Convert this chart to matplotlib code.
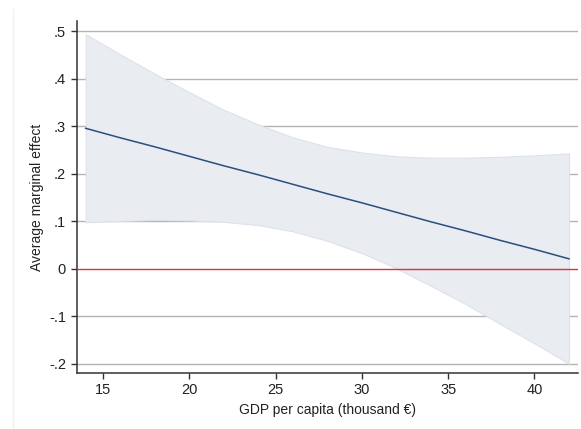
import matplotlib.pyplot as plt
from matplotlib.lines import Line2D

# values
gdp = [14, 16, 18, 20, 22, 24, 26, 28, 30, 32, 34, 36, 38, 40, 42]
ame = [0.296, 0.276, 0.257, 0.237, 0.217, 0.198, 0.178, 0.158,
       0.139, 0.119, 0.099, 0.080, 0.060, 0.041, 0.021]
ci_hi = [0.494, 0.452, 0.411, 0.372, 0.335, 0.304, 0.277, 0.257,
         0.245, 0.237, 0.234, 0.234, 0.236, 0.239, 0.243]
ci_lo = [0.098, 0.101, 0.103, 0.102, 0.099, 0.092, 0.079, 0.059,
         0.033, 0.001, -0.036, -0.074, -0.116, -0.157, -0.200]

yticks = [0.5, 0.4, 0.3, 0.2, 0.1, 0, -0.1, -0.2]
ylabels = [".5", ".4", ".3", ".2", ".1", "0", "-.1", "-.2"]
xticks = [15, 20, 25, 30, 35, 40]

plt.rcParams['font.family'] = ['Liberation Sans', 'DejaVu Sans']

fig = plt.figure(figsize=(5.81, 4.29), dpi=100)
ax = fig.add_axes([0.1317, 0.1305, 0.8631, 0.8205])

# faint graph-region border on the left
fig.add_artist(Line2D([0.022, 0.022], [0.0, 0.98], transform=fig.transFigure,
                      color="#f1f1f1", linewidth=1))

for yv in yticks:
    if yv != 0:
        ax.axhline(yv, color="#b4b4b4", linewidth=1, zorder=1)

ax.fill_between(gdp, ci_lo, ci_hi, facecolor="#e9ecf1", edgecolor="#dde2ea",
                linewidth=0.8, zorder=2)
ax.axhline(0, color="#e0323c", linewidth=1, zorder=3)
ax.plot(gdp, ame, color="#2a4f7e", linewidth=1.1, zorder=4)

ax.set_xlim(13.47, 42.52)
ax.set_ylim(-0.2196, 0.522)
ax.set_yticks(yticks)
ax.set_yticklabels(ylabels)
ax.set_xticks(xticks)

for side in ("top", "right"):
    ax.spines[side].set_visible(False)
for side in ("left", "bottom"):
    ax.spines[side].set_color("#333333")
    ax.spines[side].set_linewidth(1.1)

ax.tick_params(axis="both", direction="out", length=4.5, width=1,
               color="#333333", labelsize=10.5, labelcolor="#222222", pad=3)

ax.set_xlabel("GDP per capita (thousand €)", fontsize=10, color="#222222",
              labelpad=4)
ax.set_ylabel("Average marginal effect", fontsize=10, color="#222222",
              labelpad=4)

fig.savefig("out.png", dpi=100)
